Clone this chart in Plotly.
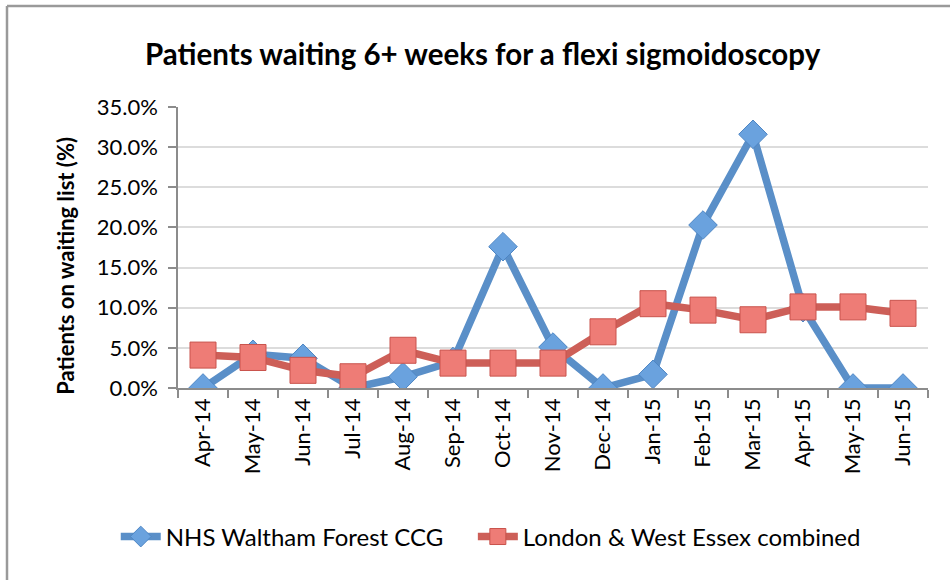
import plotly.graph_objects as go

months = ["Apr-14", "May-14", "Jun-14", "Jul-14", "Aug-14", "Sep-14", "Oct-14", "Nov-14",
          "Dec-14", "Jan-15", "Feb-15", "Mar-15", "Apr-15", "May-15", "Jun-15"]
nhs_wf = [0.0, 4.2, 3.7, 0.0, 1.4, 3.3, 17.6, 5.1, 0.0, 1.7, 20.3, 31.6, 10.0, 0.0, 0.0]
london_we = [4.1, 3.8, 2.2, 1.4, 4.7, 3.1, 3.1, 3.1, 7.0, 10.5, 9.7, 8.5, 10.1, 10.1, 9.3]
y_ticks = [0, 5, 10, 15, 20, 25, 30, 35]
y_tick_text = ["0.0%", "5.0%", "10.0%", "15.0%", "20.0%", "25.0%", "30.0%", "35.0%"]

FONT = "Lato"

fig = go.Figure()
fig.add_trace(go.Scatter(
    x=months, y=nhs_wf, name="NHS Waltham Forest CCG&nbsp;&nbsp;&nbsp;&nbsp;", mode="lines+markers",
    line=dict(color="#5A8FC8", width=7.5),
    marker=dict(symbol="diamond", size=22, color="#6AA2DE", line=dict(color="#4E86C4", width=1)),
))
fig.add_trace(go.Scatter(
    x=months, y=london_we, name="London & West Essex combined", mode="lines+markers",
    line=dict(color="#CD5F58", width=7.5),
    marker=dict(symbol="square", size=26, color="#EE7C76", line=dict(color="#C9534C", width=1)),
))

fig.update_layout(
    width=950, height=580,
    margin=dict(l=178, r=22, t=107, b=192, autoexpand=False),
    paper_bgcolor="white", plot_bgcolor="white",
    font=dict(family=FONT, color="black"),
    title=dict(text="<b>Patients waiting 6+ weeks for a flexi sigmoidoscopy</b>",
               x=0.508, xanchor="center", y=0.905, yanchor="middle",
               font=dict(size=29.5, family=FONT, color="black")),
    showlegend=True,
    legend=dict(orientation="h", x=0.417, xanchor="center", y=-0.53, yanchor="middle",
                font=dict(size=24, family=FONT), itemwidth=40, tracegroupgap=0,
                bgcolor="rgba(0,0,0,0)"),
    xaxis=dict(
        type="category", range=[-0.5, 14.5],
        showline=True, linecolor="#8C8C8C", linewidth=1.5,
        ticks="outside", tickson="boundaries", ticklen=8, tickcolor="#8C8C8C", tickwidth=1.5,
        tickangle=-90, tickfont=dict(size=22, family=FONT),
        showgrid=False,
    ),
    yaxis=dict(
        range=[0, 35], tickvals=y_ticks, ticktext=y_tick_text,
        showline=True, linecolor="#8C8C8C", linewidth=1.5,
        ticks="outside", ticklen=8, tickcolor="#8C8C8C", tickwidth=1.5,
        tickfont=dict(size=22, family=FONT), ticklabelstandoff=6,
        showgrid=True, gridcolor="#DCDCDC", gridwidth=1.5,
        zeroline=False,
    ),
    annotations=[dict(
        text="<b>Patients on waiting list (%)</b>", xref="paper", yref="paper",
        x=-0.151, y=0.434, xanchor="center", yanchor="middle", textangle=-90,
        showarrow=False, font=dict(size=22, family=FONT, color="black"),
    )],
)

# outer chart frame (only left and top edges visible in the cropped original)
fig.add_shape(type="line", xref="paper", yref="paper",
              x0=-0.228, x1=-0.228, y0=1.3594, y1=-0.70,
              line=dict(color="#9A9A9A", width=2.5), layer="below")
fig.add_shape(type="line", xref="paper", yref="paper",
              x0=-0.228, x1=1.04, y0=1.3594, y1=1.3594,
              line=dict(color="#9A9A9A", width=2.5), layer="below")

fig.write_html("out.html", config={"displayModeBar": False},
               post_script="document.body.style.margin='0';document.body.style.overflow='hidden';")
